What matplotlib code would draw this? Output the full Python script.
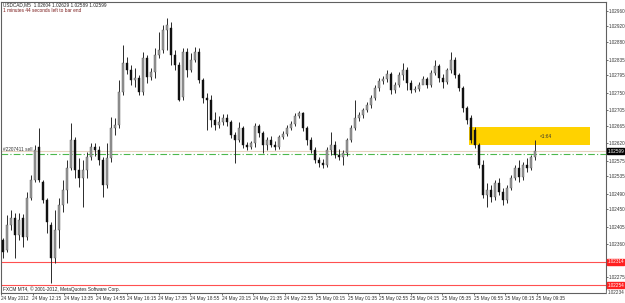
import matplotlib
matplotlib.use("Agg")
import matplotlib.pyplot as plt
from matplotlib.patches import Rectangle

# ---------------- data (USDCAD, M5) ----------------
opens = [1.02370, 1.02344, 1.02409, 1.02427, 1.02383, 1.02427, 1.02378, 1.02478, 1.02525, 1.02609,
         1.02519, 1.02473, 1.02409, 1.02324, 1.02396, 1.02460, 1.02499, 1.02555, 1.02628, 1.02550,
         1.02530, 1.02550, 1.02584, 1.02609, 1.02602, 1.02576, 1.02512, 1.02581, 1.02658, 1.02666,
         1.02751, 1.02826, 1.02808, 1.02782, 1.02787, 1.02751, 1.02839, 1.02790, 1.02803, 1.02846,
         1.02859, 1.02911, 1.02916, 1.02846, 1.02821, 1.02738, 1.02854, 1.02808, 1.02834, 1.02854,
         1.02782, 1.02736, 1.02731, 1.02679, 1.02666, 1.02674, 1.02684, 1.02674, 1.02640, 1.02628,
         1.02658, 1.02615, 1.02609, 1.02620, 1.02664, 1.02646, 1.02615, 1.02628, 1.02615, 1.02609,
         1.02635, 1.02643, 1.02658, 1.02669, 1.02689, 1.02697, 1.02658, 1.02628, 1.02602, 1.02576,
         1.02568, 1.02563, 1.02602, 1.02615, 1.02589, 1.02584, 1.02594, 1.02628, 1.02658, 1.02684,
         1.02692, 1.02705, 1.02718, 1.02736, 1.02761, 1.02779, 1.02785, 1.02797, 1.02756, 1.02769,
         1.02795, 1.02808, 1.02774, 1.02756, 1.02759, 1.02769, 1.02785, 1.02769, 1.02800, 1.02818,
         1.02787, 1.02777, 1.02808, 1.02834, 1.02795, 1.02761, 1.02710, 1.02684, 1.02653, 1.02615,
         1.02563, 1.02486, 1.02499, 1.02481, 1.02517, 1.02494, 1.02473, 1.02504, 1.02530, 1.02555,
         1.02532, 1.02563, 1.02555, 1.02584]
highs = [1.02375, 1.02434, 1.02447, 1.02440, 1.02440, 1.02437, 1.02494, 1.02537, 1.02615, 1.02658,
         1.02525, 1.02478, 1.02416, 1.02447, 1.02478, 1.02525, 1.02576, 1.02671, 1.02635, 1.02581,
         1.02576, 1.02597, 1.02620, 1.02620, 1.02612, 1.02584, 1.02620, 1.02687, 1.02684, 1.02782,
         1.02872, 1.02841, 1.02821, 1.02813, 1.02795, 1.02854, 1.02846, 1.02813, 1.02864, 1.02906,
         1.02924, 1.02942, 1.02931, 1.02859, 1.02828, 1.02864, 1.02864, 1.02852, 1.02867, 1.02864,
         1.02787, 1.02749, 1.02743, 1.02700, 1.02689, 1.02694, 1.02694, 1.02679, 1.02648, 1.02674,
         1.02664, 1.02622, 1.02625, 1.02671, 1.02669, 1.02651, 1.02635, 1.02638, 1.02625, 1.02640,
         1.02651, 1.02666, 1.02676, 1.02697, 1.02702, 1.02700, 1.02664, 1.02635, 1.02609, 1.02584,
         1.02579, 1.02609, 1.02648, 1.02625, 1.02604, 1.02602, 1.02633, 1.02666, 1.02731, 1.02700,
         1.02710, 1.02725, 1.02743, 1.02769, 1.02787, 1.02792, 1.02808, 1.02803, 1.02777, 1.02803,
         1.02826, 1.02815, 1.02782, 1.02767, 1.02777, 1.02792, 1.02790, 1.02808, 1.02834, 1.02823,
         1.02797, 1.02813, 1.02854, 1.02841, 1.02800, 1.02767, 1.02715, 1.02692, 1.02661, 1.02620,
         1.02576, 1.02517, 1.02512, 1.02525, 1.02530, 1.02504, 1.02512, 1.02537, 1.02563, 1.02576,
         1.02571, 1.02581, 1.02589, 1.02629]
lows = [1.02324, 1.02339, 1.02396, 1.02324, 1.02370, 1.02352, 1.02370, 1.02473, 1.02519, 1.02519,
        1.02465, 1.02388, 1.02259, 1.02311, 1.02349, 1.02442, 1.02465, 1.02550, 1.02530, 1.02506,
        1.02455, 1.02530, 1.02576, 1.02586, 1.02563, 1.02481, 1.02504, 1.02571, 1.02640, 1.02658,
        1.02743, 1.02797, 1.02769, 1.02764, 1.02743, 1.02743, 1.02774, 1.02782, 1.02787, 1.02839,
        1.02852, 1.02859, 1.02821, 1.02808, 1.02728, 1.02731, 1.02790, 1.02803, 1.02828, 1.02774,
        1.02723, 1.02653, 1.02661, 1.02653, 1.02658, 1.02666, 1.02664, 1.02633, 1.02568, 1.02622,
        1.02607, 1.02602, 1.02604, 1.02609, 1.02635, 1.02594, 1.02602, 1.02609, 1.02602, 1.02604,
        1.02630, 1.02638, 1.02653, 1.02664, 1.02684, 1.02651, 1.02615, 1.02594, 1.02568, 1.02558,
        1.02555, 1.02558, 1.02589, 1.02581, 1.02576, 1.02563, 1.02586, 1.02622, 1.02653, 1.02676,
        1.02684, 1.02700, 1.02710, 1.02731, 1.02754, 1.02772, 1.02777, 1.02746, 1.02749, 1.02764,
        1.02782, 1.02756, 1.02749, 1.02751, 1.02754, 1.02772, 1.02761, 1.02764, 1.02795, 1.02777,
        1.02761, 1.02772, 1.02800, 1.02787, 1.02754, 1.02700, 1.02669, 1.02620, 1.02607, 1.02555,
        1.02478, 1.02455, 1.02468, 1.02473, 1.02486, 1.02460, 1.02465, 1.02499, 1.02525, 1.02519,
        1.02525, 1.02545, 1.02550, 1.02576]
closes = [1.02339, 1.02409, 1.02427, 1.02383, 1.02422, 1.02378, 1.02478, 1.02525, 1.02602, 1.02525,
          1.02473, 1.02416, 1.02324, 1.02396, 1.02460, 1.02499, 1.02555, 1.02628, 1.02550, 1.02530,
          1.02550, 1.02584, 1.02609, 1.02602, 1.02576, 1.02512, 1.02581, 1.02658, 1.02666, 1.02751,
          1.02826, 1.02808, 1.02782, 1.02787, 1.02751, 1.02839, 1.02790, 1.02803, 1.02846, 1.02859,
          1.02911, 1.02924, 1.02846, 1.02821, 1.02731, 1.02854, 1.02808, 1.02834, 1.02854, 1.02782,
          1.02736, 1.02731, 1.02679, 1.02666, 1.02674, 1.02684, 1.02674, 1.02640, 1.02628, 1.02658,
          1.02615, 1.02609, 1.02620, 1.02664, 1.02646, 1.02615, 1.02628, 1.02615, 1.02609, 1.02635,
          1.02643, 1.02658, 1.02669, 1.02689, 1.02697, 1.02658, 1.02628, 1.02602, 1.02576, 1.02568,
          1.02563, 1.02602, 1.02615, 1.02589, 1.02584, 1.02594, 1.02628, 1.02658, 1.02684, 1.02692,
          1.02705, 1.02718, 1.02736, 1.02761, 1.02779, 1.02785, 1.02797, 1.02756, 1.02769, 1.02795,
          1.02808, 1.02774, 1.02756, 1.02759, 1.02769, 1.02785, 1.02769, 1.02800, 1.02818, 1.02787,
          1.02777, 1.02808, 1.02834, 1.02795, 1.02761, 1.02710, 1.02679, 1.02628, 1.02615, 1.02563,
          1.02486, 1.02499, 1.02481, 1.02517, 1.02494, 1.02473, 1.02504, 1.02530, 1.02555, 1.02532,
          1.02563, 1.02555, 1.02584, 1.02599]

time_labels = ["24 May 2012", "24 May 12:15", "24 May 13:35", "24 May 14:55", "24 May 16:15",
               "24 May 17:35", "24 May 18:55", "24 May 20:15", "24 May 21:35", "24 May 22:55",
               "25 May 00:15", "25 May 01:35", "25 May 02:55", "25 May 04:15", "25 May 05:35",
               "25 May 06:55", "25 May 08:15", "25 May 09:35"]
price_ticks = [1.02960, 1.02920, 1.02880, 1.02835, 1.02795, 1.02750, 1.02705, 1.02665,
               1.02620, 1.02575, 1.02535, 1.02490, 1.02450, 1.02405, 1.02360, 1.02275]
price_min, price_max = 1.02234, 1.02983

bid = 1.02599
order_price = 1.02592
order_label = "#2207411 sell"
red_levels = [1.02314, 1.02254]
zone_start, zone_end = 116.5, 146.75      # bar index
zone_top, zone_bottom = 1.02661, 1.02615
zone_text = "<1:64"
title_line = "USDCAD,M5  1.02604 1.02629 1.02589 1.02599"
timer_line = "1 minutes 44 seconds left to bar end"
copyright_line = "FXCM MT4, \u00a9 2001-2012, MetaQuotes Software Corp."

# ---------------- drawing ----------------
FONT = ["Liberation Sans", "DejaVu Sans"]
FS = 3.4
FSY = 3.3
plt.rcParams["font.family"] = FONT

W, H = 625, 303
fig = plt.figure(figsize=(W / 100, H / 100), dpi=100)
ax = fig.add_axes([1 / W, 10 / H, 605 / W, 291 / H])
ax.set_facecolor("white")

n = len(closes)
idx = list(range(n))
ax.vlines(idx, lows, highs, color="#2a2a2a", linewidth=0.7, zorder=3)
for i in idx:
    o, c = opens[i], closes[i]
    bottom = min(o, c)
    height = max(abs(c - o), 0.000012)
    if c < o:
        fc, ec = "#111111", "#111111"
    else:
        fc, ec = "#9a9a9a", "#555555"
    ax.bar(i, height, bottom=bottom, width=0.65, color=fc, edgecolor=ec,
           linewidth=0.3, zorder=4)

# zone rectangle
ax.add_patch(Rectangle((zone_start, zone_bottom), zone_end - zone_start, zone_top - zone_bottom,
                       facecolor="#FFD200", edgecolor="none", zorder=2))
ax.text(zone_start + 17.8, (zone_top + zone_bottom) / 2, zone_text, fontsize=FS,
        ha="left", va="center", color="#333333", zorder=6)

# horizontal lines
ax.axhline(bid, color="#E6D2BE", linewidth=0.8, zorder=1)
ax.axhline(order_price, color="#4CB84C", linewidth=0.8, linestyle=(0, (6, 2, 1, 2)), zorder=1)
ax.text(0.0, order_price + 0.00004, order_label, fontsize=FS, color="#333333",
        ha="left", va="bottom", zorder=6)
for lv in red_levels:
    ax.axhline(lv, color="#FF5050", linewidth=0.8, zorder=1)

ax.set_xlim(-0.5, 150.75)
ax.set_ylim(price_min, price_max)

# price axis on the right
ax.yaxis.tick_right()
ax.set_yticks(price_ticks)
ax.set_yticklabels([f"{p:.5f}" for p in price_ticks])
ax.tick_params(axis="y", labelsize=FSY, length=1.2, width=0.5, pad=0.4, colors="#333333")

# time axis
tick_pos = [-0.5 + 7.875 * k for k in range(len(time_labels))]
ax.set_xticks(tick_pos)
ax.set_xticklabels(time_labels, ha="left")
ax.tick_params(axis="x", labelsize=FS, length=1.5, width=0.5, pad=0.8, colors="#333333")

for s in ax.spines.values():
    s.set_color("#606060")
    s.set_linewidth(0.8)


# coloured price boxes on the right axis
def price_box(price, fc, tc="white", z=10):
    ax.annotate(f"{price:.5f}", xy=(1.0, price), xycoords=("axes fraction", "data"),
                xytext=(0.9, 0), textcoords="offset points", fontsize=FSY, color=tc,
                ha="left", va="center", annotation_clip=False, zorder=z,
                bbox=dict(boxstyle="square,pad=0.1", fc=fc, ec=fc))


price_box(price_min, "white", "#333333", z=8)
price_box(bid, "black")
for lv in red_levels:
    price_box(lv, "#FF2020")

# header / footer texts
fig.text(3 / W, 1 - 5 / H, title_line, fontsize=FS, color="#222222", ha="left", va="center")
fig.text(3 / W, 1 - 11 / H, timer_line, fontsize=FS, color="#7a1a1a", ha="left", va="center")
fig.text(3 / W, 1 - 289.5 / H, copyright_line, fontsize=FS, color="#222222", ha="left", va="center")

fig.savefig("out.png", dpi=100, facecolor="white")
